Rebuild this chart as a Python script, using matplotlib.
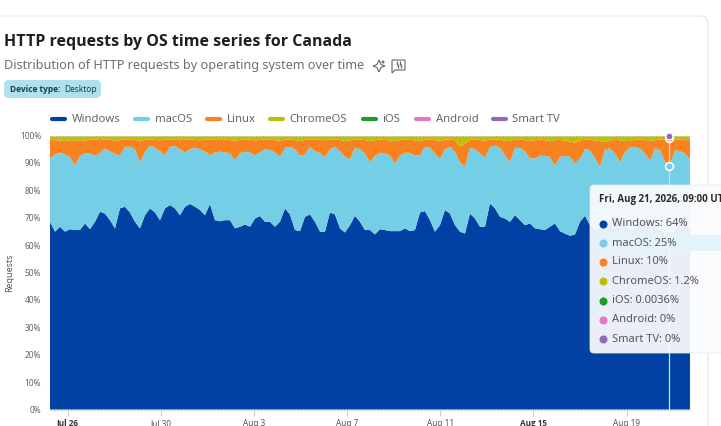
import numpy as np
import matplotlib
matplotlib.use("Agg")
import matplotlib.pyplot as plt
from matplotlib.patches import FancyBboxPatch, Polygon

plt.rcParams['font.family'] = ['Noto Sans', 'DejaVu Sans']
BOLD = ['Open Sans', 'DejaVu Sans']

W, H = 721, 426

series_names = ['Windows', 'macOS', 'Linux', 'ChromeOS', 'iOS', 'Android', 'Smart TV']
series_colors = ['#0041A3', '#73CEE6', '#F98220', '#BDBF04', '#1F9E26', '#E377C2', '#9467BD']
tooltip_labels = ['Windows: 64%', 'macOS: 25%', 'Linux: 10%', 'ChromeOS: 1.2%',
                  'iOS: 0.0036%', 'Android: 0%', 'Smart TV: 0%']
tick_labels = ['Jul 26', 'Jul 30', 'Aug 3', 'Aug 7', 'Aug 11', 'Aug 15', 'Aug 19']
tick_hours = [0, 96, 192, 288, 384, 480, 576]
y_ticks = list(range(0, 101, 10))

# Share of Windows (percent)
windows = [
    68.5, 64.9, 66.7, 64.9, 65.8, 65.5, 65.5, 67.9, 65.8, 68.5, 72.2, 71.5, 69.1, 66.1, 73.4, 74.0, 71.9, 68.5,
    66.1, 70.9, 73.4, 71.9, 69.1, 73.4, 74.6, 73.4, 70.9, 74.0, 75.0, 74.0, 72.8, 70.9, 75.0, 69.1, 68.7, 69.1,
    69.1, 66.1, 66.7, 67.5, 66.7, 69.7, 70.6, 68.5, 68.5, 66.7, 68.5, 73.4, 71.2, 65.5, 65.1, 70.3, 71.2, 68.5,
    64.9, 64.9, 71.9, 71.2, 66.1, 64.6, 67.3, 70.7, 68.5, 65.5, 65.5, 63.9, 65.8, 65.5, 65.1, 65.1, 65.1, 66.1,
    65.1, 65.5, 71.9, 72.4, 69.1, 64.9, 67.3, 72.8, 71.5, 67.3, 64.9, 64.2, 71.5, 69.7, 66.7, 66.7, 75.2, 73.4,
    70.3, 69.7, 68.5, 70.9, 69.1, 67.3, 67.9, 66.1, 65.8, 65.5, 66.7, 67.9, 65.1, 64.2, 63.4, 63.9, 68.5, 70.7,
    67.3, 66.0, 66.0, 67.0, 69.0, 70.5, 69.5, 67.0, 65.5, 65.5, 68.0, 70.0, 69.5, 67.5, 65.5, 64.5, 64.0, 65.5,
    68.0, 68.0, 66.0]

# Top edge of the macOS band (Windows + macOS, percent)
through_macos = [
    91.6, 93.1, 93.8, 93.1, 92.2, 89.0, 92.6, 93.5, 93.5, 92.6, 93.5, 95.3, 94.3, 93.2, 92.8, 95.9, 95.9, 95.0,
    90.4, 94.1, 96.3, 95.5, 94.3, 92.8, 95.9, 96.1, 95.0, 93.8, 95.0, 95.5, 95.0, 94.1, 92.8, 93.8, 94.1, 93.8,
    93.5, 91.0, 93.5, 94.1, 93.8, 92.8, 93.8, 94.9, 94.7, 93.8, 92.2, 95.5, 95.9, 95.0, 92.6, 93.1, 95.8, 94.3,
    93.5, 92.2, 95.0, 95.9, 94.3, 92.2, 91.4, 95.5, 95.0, 93.5, 90.2, 92.6, 93.5, 93.5, 92.6, 89.8, 92.6, 93.7,
    93.7, 92.6, 92.8, 95.9, 95.5, 93.5, 91.4, 95.0, 95.9, 94.1, 90.2, 88.6, 95.5, 95.0, 93.5, 91.9, 95.9, 96.3,
    95.5, 92.8, 90.4, 95.5, 95.5, 94.1, 91.6, 91.6, 92.6, 92.6, 92.2, 89.0, 92.2, 92.6, 92.2, 89.8, 91.6, 95.0,
    94.7, 91.7, 88.6, 95.0, 95.3, 93.5, 90.1, 94.1, 95.6, 95.9, 95.3, 93.5, 90.8, 95.3, 94.7, 90.5, 89.0, 94.7,
    94.3, 93.5, 91.1]

# Top edge of the Linux band (Windows + macOS + Linux, percent)
through_linux = [
    98.5, 98.3, 98.2, 98.0, 98.3, 98.2, 98.0, 98.2, 98.4, 98.5, 98.3, 98.6, 98.4, 98.2, 98.3, 98.5, 98.6, 98.3,
    98.1, 98.4, 98.6, 98.4, 98.2, 98.5, 98.6, 98.4, 98.3, 98.5, 98.6, 98.4, 98.2, 98.5, 98.6, 98.3, 98.4, 98.5,
    98.3, 98.1, 98.4, 98.6, 98.5, 98.2, 98.4, 98.6, 98.5, 98.3, 98.1, 98.5, 98.6, 98.3, 98.0, 98.4, 98.6, 98.5,
    98.5, 98.2, 98.5, 98.6, 98.3, 98.0, 98.2, 98.6, 98.5, 98.3, 97.9, 98.3, 98.5, 98.4, 98.2, 98.0, 98.4, 98.5,
    98.4, 98.2, 98.0, 98.5, 98.6, 98.3, 98.0, 98.5, 98.6, 98.3, 96.0, 97.0, 98.4, 98.6, 98.4, 98.1, 98.6, 98.6,
    98.4, 98.1, 97.9, 98.5, 98.6, 98.3, 98.0, 98.3, 98.5, 98.3, 97.9, 98.3, 98.4, 98.2, 97.8, 97.4, 98.2, 98.5,
    98.5, 98.2, 98.0, 97.6, 98.2, 98.4, 98.3, 98.0, 98.0, 98.4, 98.5, 98.4, 98.0, 98.3, 98.5, 98.4, 98.8, 98.4,
    98.5, 98.3, 98.3]

first_hour = -18.4
hours_step = 5.155
hover_hour = 620
hover_values = [64, 89, 99, 100, 100, 100, 100]

windows = np.array(windows)
macos = np.array(through_macos) - windows
linux = np.array(through_linux) - np.array(through_macos)
chromeos = 100 - np.array(through_linux)
hours = first_hour + hours_step * np.arange(len(windows))

fig = plt.figure(figsize=(W / 100, H / 100), dpi=100, facecolor='white')


def box(l, t, r, b):
    return [l / W, 1 - b / H, (r - l) / W, (b - t) / H]


bg = fig.add_axes([0, 0, 1, 1], zorder=0)
bg.set_xlim(0, W); bg.set_ylim(H, 0); bg.axis('off')
bg.add_patch(FancyBboxPatch((-30, 16), 738, 460, boxstyle='round,pad=0,rounding_size=8',
                            fc='white', ec='#E8E8E8', lw=0.9))

ax = fig.add_axes(box(49.5, 135.5, 691, 409.5), zorder=1)
ax.stackplot(hours, windows, macos, linux, chromeos, colors=series_colors[:4], lw=0)
ax.set_xlim(-18.9, 642.5)
ax.set_ylim(0, 100)
ax.set_yticks(y_ticks)
ax.set_yticklabels([f'{v}%' for v in y_ticks], fontsize=6.0, color='#666666')
ax.set_xticks(tick_hours)
ax.set_xticklabels(tick_labels, fontsize=5.9, color='#555555')
for lab, t in zip(ax.get_xticklabels(), tick_labels):
    if t in ('Jul 26', 'Aug 15'):
        lab.set_fontfamily(BOLD)
        lab.set_fontweight('bold')
        lab.set_color('#333333')
ax.tick_params(axis='y', length=0, pad=6)
ax.tick_params(axis='x', length=4, width=0.7, color='#CCCCCC', pad=3)
for s in ax.spines.values():
    s.set_visible(False)
ax.axhline(100, color='#CFCFCF', lw=0.8, ls=(0, (2, 1)), clip_on=False, zorder=1)
ax.axhline(0, color='#CFCFCF', lw=0.8, ls=(0, (2, 1)), clip_on=False, zorder=3)
ax.set_ylabel('Requests', fontsize=6.4, color='#555555', labelpad=4)

ax.axvline(hover_hour, color='#D8DDE3', lw=0.9, zorder=4)
for v, c in zip(hover_values[:3], series_colors[:3]):
    ax.plot(hover_hour, v, 'o', ms=5.6, mfc=c, mec='white', mew=1.2, clip_on=False, zorder=5)
ax.plot(hover_hour, hover_values[6], 'o', ms=5.0, mfc=series_colors[6], mec='white', mew=0.9,
        clip_on=False, zorder=6)

ov = fig.add_axes([0, 0, 1, 1], zorder=5)
ov.set_xlim(0, W); ov.set_ylim(H, 0); ov.axis('off')
ov.patch.set_alpha(0)

ov.text(4, 42.5, 'HTTP requests by OS time series for Canada', fontsize=11.5, fontweight='bold', family=BOLD,
        color='#1F1F1F', va='center', ha='left')
ov.text(4, 66, 'Distribution of HTTP requests by operating system over time', fontsize=9.1,
        color='#6E6E6E', va='center', ha='left')

ov.add_patch(Polygon([(379, 60), (381, 64.5), (385, 66), (381, 67.5), (379, 72), (377, 67.5), (373, 66), (377, 64.5)],
                     closed=True, fc='none', ec='#666666', lw=0.8))
ov.add_patch(Polygon([(383, 60), (384, 61.5), (385.5, 62), (384, 62.5), (383, 64), (382, 62.5), (380.5, 62), (382, 61.5)],
                     closed=True, fc='#666666', ec='none'))
ov.add_patch(Polygon([(392, 60), (405, 60), (405, 70), (395, 70), (392, 73)], closed=True, fc='none',
                     ec='#666666', lw=0.8))
ov.plot([397, 398, 400, 401], [63, 65.5, 63, 65.5], ls='none', marker='|', ms=2.5, mew=0.9, color='#666666')

ov.add_patch(FancyBboxPatch((4, 80), 97, 18, boxstyle='round,pad=0,rounding_size=5', fc='#ADE1EF', ec='none'))
ov.text(10.5, 89, 'Device type:', fontsize=6.0, fontweight='bold', family=BOLD, color='#1F3B4A', va='center', ha='left')
ov.text(64, 89, 'Desktop', fontsize=6.0, color='#1F3B4A', va='center', ha='left')

legend_x = [50, 133, 205, 268, 361, 414, 491]
for x, n, c in zip(legend_x, series_names, series_colors):
    ov.plot([x + 1.5, x + 15], [119, 119], color=c, lw=3, solid_capstyle='round')
    ov.text(x + 21.5, 119.5, n, fontsize=8.1, color='#666666', va='center', ha='left')

ov.add_patch(FancyBboxPatch((590, 185), 160, 168, boxstyle='round,pad=0,rounding_size=4',
                            fc='#FAFBFD', ec='#E8ECF1', lw=0.6, alpha=0.94, zorder=6))
ov.add_patch(FancyBboxPatch((596, 235), 140, 16, boxstyle='round,pad=0,rounding_size=7',
                            fc='#E3F4FA', ec='none', alpha=0.95, zorder=6.1))
ov.text(599, 199.5, 'Fri, Aug 21, 2026, 09:00 UTC', fontsize=7.0, fontweight='bold', family=BOLD, color='#2A2A2A',
        va='center', ha='left', zorder=7)
row_y = [224, 243, 262, 281, 300.5, 320, 339]
for y, lab, c in zip(row_y, tooltip_labels, series_colors):
    ov.plot(603, y, 'o', ms=5.8, color=c, mew=0, zorder=7)
    ov.text(611.5, y, lab, fontsize=8.0, color='#555555', va='center', ha='left', zorder=7)

fig.savefig('out.png', dpi=100)
